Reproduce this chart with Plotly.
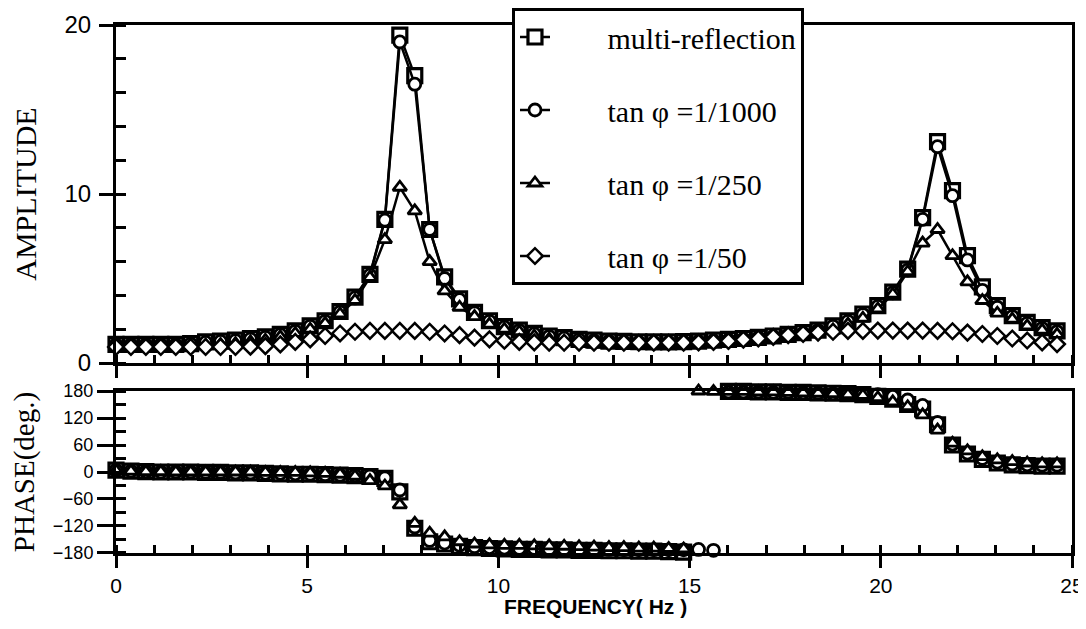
import plotly.graph_objects as go

# ---------------- data ----------------
freq = [0.000, 0.391, 0.781, 1.172, 1.563, 1.953, 2.344, 2.734, 3.125, 3.516,
        3.906, 4.297, 4.688, 5.078, 5.469, 5.859, 6.250, 6.641, 7.031, 7.422,
        7.813, 8.203, 8.594, 8.984, 9.375, 9.766, 10.156, 10.547, 10.938, 11.328,
        11.719, 12.109, 12.500, 12.891, 13.281, 13.672, 14.063, 14.453, 14.844, 15.234,
        15.625, 16.016, 16.406, 16.797, 17.188, 17.578, 17.969, 18.359, 18.750, 19.141,
        19.531, 19.922, 20.313, 20.703, 21.094, 21.484, 21.875, 22.266, 22.656, 23.047,
        23.438, 23.828, 24.219, 24.609]

amp_multi = [1.10, 1.10, 1.10, 1.10, 1.10, 1.15, 1.25, 1.30, 1.35, 1.45,
             1.55, 1.70, 1.90, 2.20, 2.50, 3.05, 3.90, 5.25, 8.50, 19.40,
             17.00, 7.90, 5.10, 3.80, 3.00, 2.50, 2.15, 1.95, 1.75, 1.60,
             1.50, 1.40, 1.35, 1.30, 1.28, 1.26, 1.25, 1.25, 1.27, 1.30,
             1.35, 1.40, 1.45, 1.52, 1.60, 1.70, 1.80, 1.95, 2.20, 2.50,
             2.90, 3.40, 4.20, 5.55, 8.60, 13.10, 10.20, 6.35, 4.50, 3.40,
             2.80, 2.40, 2.10, 1.90]

amp_1000 = [1.08, 1.08, 1.08, 1.08, 1.08, 1.12, 1.22, 1.28, 1.33, 1.42,
            1.52, 1.68, 1.88, 2.17, 2.47, 3.02, 3.85, 5.20, 8.45, 19.00,
            16.50, 7.90, 5.00, 3.75, 2.97, 2.47, 2.12, 1.92, 1.72, 1.57,
            1.47, 1.38, 1.32, 1.28, 1.25, 1.23, 1.22, 1.22, 1.24, 1.27,
            1.32, 1.37, 1.42, 1.49, 1.57, 1.67, 1.77, 1.92, 2.17, 2.47,
            2.87, 3.35, 4.15, 5.50, 8.50, 12.80, 9.90, 6.10, 4.30, 3.30,
            2.75, 2.35, 2.05, 1.85]

amp_250 = [1.00, 1.00, 1.00, 1.00, 1.00, 1.00, 1.05, 1.10, 1.15, 1.25,
           1.35, 1.55, 1.75, 2.00, 2.35, 2.90, 3.70, 5.07, 7.30, 10.40,
           9.00, 6.00, 4.27, 3.30, 2.75, 2.30, 2.00, 1.85, 1.60, 1.42,
           1.28, 1.20, 1.12, 1.12, 1.12, 1.12, 1.12, 1.12, 1.12, 1.15,
           1.20, 1.28, 1.32, 1.40, 1.46, 1.58, 1.68, 1.80, 1.95, 2.30,
           2.65, 3.20, 4.07, 5.40, 7.10, 7.90, 6.35, 4.80, 3.70, 2.95,
           2.60, 2.20, 1.95, 1.70]

amp_50 = [0.95, 0.95, 0.95, 0.95, 0.95, 0.95, 0.95, 0.95, 0.95, 0.97,
          1.00, 1.10, 1.25, 1.40, 1.60, 1.75, 1.85, 1.90, 1.90, 1.90,
          1.90, 1.85, 1.75, 1.65, 1.50, 1.40, 1.32, 1.25, 1.22, 1.20,
          1.20, 1.20, 1.20, 1.20, 1.20, 1.20, 1.20, 1.20, 1.20, 1.22,
          1.25, 1.30, 1.38, 1.45, 1.55, 1.65, 1.72, 1.80, 1.85, 1.90,
          1.90, 1.92, 1.92, 1.92, 1.92, 1.90, 1.88, 1.80, 1.72, 1.60,
          1.45, 1.33, 1.22, 1.12]

phase_multi = [4, 2, 1, 0, 0, 0, -1, -1, -2, -2,
               -3, -4, -5, -5, -6, -7, -8, -10, -14, -44,
               -125, -155, -160, -165, -168, -170, -171, -172, -172, -173,
               -173, -174, -174, -175, -175, -176, -176, -177, -178, None,
               None, 179, 179, 178, 178, 177, 177, 176, 175, 174,
               172, 168, 162, 150, 140, 105, 60, 40, 28, 20,
               16, 14, 13, 13]

phase_1000 = [4, 2, 1, 0, 0, 0, -1, -1, -2, -2,
              -3, -3, -4, -5, -6, -7, -8, -9, -13, -40,
              -122, -152, -158, -163, -166, -168, -169, -170, -170, -171,
              -171, -172, -172, -172, -173, -173, -173, -173, -173, -172,
              -174, 178, 178, 178, 177, 177, 176, 175, 174, 173,
              172, 172, 168, 160, 148, 110, 62, 42, 30, 22,
              18, 16, 15, 15]

phase_250 = [3, 2, 1, 1, 0, 0, 0, 0, 0, 0,
             -1, -1, -1, -2, -3, -5, -9, -19, -31, -73,
             -114, -136, -144, -155, -160, -162, -163, -163, -164, -164,
             -165, -166, -167, -168, -168, -169, -169, -170, -171, 180,
             179, 179, 179, 178, 178, 177, 176, 175, 174, 172,
             170, 165, 156, 145, 127, 93, 64, 47, 34, 27,
             23, 20, 18, 18]

names = ["multi-reflection", "tan φ =1/1000", "tan φ =1/250", "tan φ =1/50"]
x_title = "FREQUENCY( Hz )"
x_ticks = [0, 5, 10, 15, 20, 25]
amp_ticks = [0, 10, 20]
phase_ticks = [-180, -120, -60, 0, 60, 120, 180]

# ---------------- styles ----------------
BLACK = "#000000"
symbols = ["square", "circle", "triangle-up", "diamond"]
sizes = [14, 12, 12, 12]
edge = [3.2, 2.8, 2.8, 2.5]
SERIF = "Liberation Serif, Times New Roman, serif"
SANS = "Liberation Sans, Arial, sans-serif"
PAD = "\u00a0" * 7   # gap between legend symbol and legend text

fig = go.Figure()

amps = [amp_multi, amp_1000, amp_250, amp_50]
for i, (nm, ys) in enumerate(zip(names, amps)):
    fig.add_trace(go.Scatter(
        x=freq, y=ys, name=PAD + nm, mode="lines+markers",
        line=dict(color=BLACK, width=2.5),
        marker=dict(symbol=symbols[i], size=sizes[i], color="white",
                    line=dict(color=BLACK, width=edge[i])),
        legendgroup=f"g{i}", xaxis="x", yaxis="y", cliponaxis=False,
    ))

phases = [phase_multi, phase_1000, phase_250]
for i, ys in enumerate(phases):
    fig.add_trace(go.Scatter(
        x=freq, y=ys, name=names[i], mode="markers", showlegend=False,
        marker=dict(symbol=symbols[i], size=sizes[i], color="white",
                    line=dict(color=BLACK, width=edge[i])),
        legendgroup=f"g{i}", xaxis="x2", yaxis="y2", cliponaxis=False,
    ))

axis_common = dict(showline=True, linecolor=BLACK, linewidth=3, mirror=True,
                   showgrid=False, zeroline=False, tickcolor=BLACK, tickwidth=3)

TOP_DOM = [0.3598, 1.0]
BOT_DOM = [0.0, 0.3068]

fig.update_layout(
    width=1086, height=629,
    margin=dict(l=108, r=22, t=17, b=84, autoexpand=False),
    paper_bgcolor="white", plot_bgcolor="white",
    showlegend=True,
    legend=dict(x=0.4142, y=1.0322, xanchor="left", yanchor="top",
                bgcolor="white", bordercolor=BLACK, borderwidth=3,
                font=dict(family=SERIF, size=30, color=BLACK),
                tracegroupgap=31, itemwidth=30),
    xaxis=dict(domain=[0, 1], anchor="y", range=[0, 25], tickvals=x_ticks,
               showticklabels=False, ticks="outside", ticklen=12,
               minor=dict(dtick=1, ticks="inside", ticklen=8, tickwidth=2.5, tickcolor=BLACK),
               **axis_common),
    yaxis=dict(domain=TOP_DOM, anchor="x", range=[0, 20], tickvals=amp_ticks,
               ticks="outside", ticklen=14, ticklabelstandoff=3,
               tickfont=dict(family=SANS, size=24, color=BLACK),
               minor=dict(dtick=2, ticks="inside", ticklen=10, tickwidth=2.5, tickcolor=BLACK),
               title=dict(text="AMPLITUDE", font=dict(family=SERIF, size=30, color=BLACK), standoff=19),
               **axis_common),
    xaxis2=dict(domain=[0, 1], anchor="y2", range=[0, 25], tickvals=x_ticks,
                ticks="outside", ticklen=12, ticklabelstandoff=0,
                tickfont=dict(family=SANS, size=21, color=BLACK),
                minor=dict(dtick=1, ticks="inside", ticklen=8, tickwidth=2.5, tickcolor=BLACK),
                **axis_common),
    yaxis2=dict(domain=BOT_DOM, anchor="x2", range=[-180, 180], tickvals=phase_ticks,
                ticks="outside", ticklen=16, ticklabelstandoff=0,
                tickfont=dict(family=SANS, size=18, color=BLACK),
                minor=dict(dtick=30, ticks="inside", ticklen=10, tickwidth=2.5, tickcolor=BLACK),
                title=dict(text="PHASE(deg.)", font=dict(family=SERIF, size=29, color=BLACK), standoff=12),
                **axis_common),
    # overlay axes: inner half of the major ticks (crossing ticks)
    xaxis3=dict(overlaying="x", anchor="y", range=[0, 25], tickvals=x_ticks,
                showticklabels=False, ticks="inside", ticklen=6, tickwidth=3, tickcolor=BLACK,
                showline=False, showgrid=False, zeroline=False),
    xaxis4=dict(overlaying="x2", anchor="y2", range=[0, 25], tickvals=x_ticks,
                showticklabels=False, ticks="inside", ticklen=6, tickwidth=3, tickcolor=BLACK,
                showline=False, showgrid=False, zeroline=False),
    yaxis3=dict(overlaying="y", anchor="x", range=[0, 20], tickvals=amp_ticks,
                showticklabels=False, ticks="inside", ticklen=11, tickwidth=3, tickcolor=BLACK,
                showline=False, showgrid=False, zeroline=False),
    yaxis4=dict(overlaying="y2", anchor="x2", range=[-180, 180], tickvals=phase_ticks,
                showticklabels=False, ticks="inside", ticklen=11, tickwidth=3, tickcolor=BLACK,
                showline=False, showgrid=False, zeroline=False),
    annotations=[dict(text=f"<b>{x_title}</b>", xref="paper", yref="paper",
                      x=0.502, y=-0.102, xanchor="center", yanchor="middle",
                      showarrow=False, font=dict(family=SANS, size=21, color=BLACK))],
)

fig.write_html("out.html")
